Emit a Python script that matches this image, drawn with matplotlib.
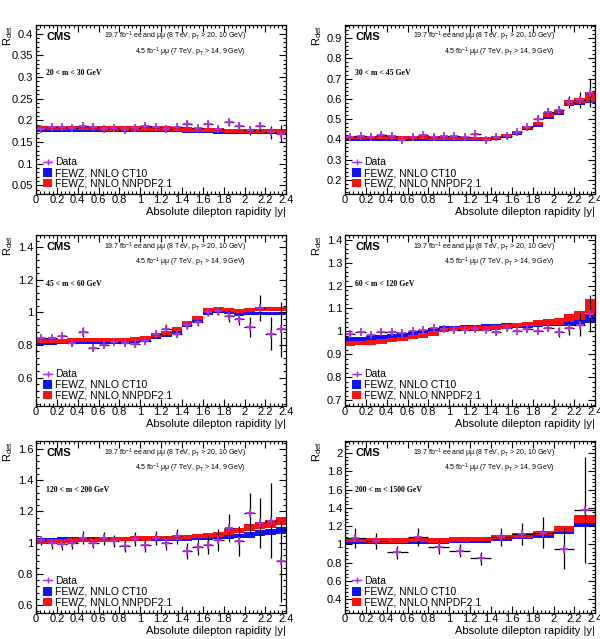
import numpy as np
import matplotlib
matplotlib.use('Agg')
import matplotlib.pyplot as plt
from matplotlib.ticker import MultipleLocator, AutoMinorLocator
from matplotlib.patches import Patch
from matplotlib.lines import Line2D

plt.rcParams['font.family'] = ['Liberation Sans', 'DejaVu Sans']
plt.rcParams['mathtext.fontset'] = 'custom'
plt.rcParams['mathtext.rm'] = 'Liberation Sans'
plt.rcParams['mathtext.it'] = 'Liberation Sans:italic'

# 20 < m < 30 GeV
m20_data = [0.181, 0.185, 0.185, 0.183, 0.186, 0.185, 0.179, 0.182, 0.177, 0.182, 0.186, 0.185,
			0.180, 0.185, 0.192, 0.182, 0.192, 0.181, 0.195, 0.186, 0.177, 0.186, 0.173, 0.169]
m20_err = [0.005, 0.005, 0.005, 0.005, 0.005, 0.005, 0.005, 0.005, 0.005, 0.005, 0.005, 0.005,
		   0.005, 0.005, 0.007, 0.006, 0.007, 0.007, 0.008, 0.008, 0.010, 0.010, 0.015, 0.020]
m20_ct10 = [0.177, 0.177, 0.177, 0.177, 0.177, 0.177, 0.177, 0.177, 0.177, 0.177, 0.177, 0.177,
			0.177, 0.176, 0.175, 0.175, 0.174, 0.173, 0.173, 0.172, 0.172, 0.172, 0.172, 0.172]
m20_nnpdf = [0.182, 0.182, 0.182, 0.182, 0.182, 0.182, 0.181, 0.181, 0.181, 0.181, 0.181, 0.181,
			 0.181, 0.180, 0.179, 0.178, 0.177, 0.177, 0.176, 0.176, 0.176, 0.176, 0.176, 0.175]

# 30 < m < 45 GeV
m30_data = [0.410, 0.416, 0.413, 0.423, 0.416, 0.397, 0.413, 0.421, 0.413, 0.418, 0.418, 0.413,
			0.425, 0.397, 0.411, 0.418, 0.434, 0.459, 0.503, 0.536, 0.544, 0.585, 0.593, 0.630]
m30_err = [0.007, 0.007, 0.007, 0.007, 0.007, 0.007, 0.007, 0.007, 0.007, 0.007, 0.007, 0.007,
		   0.008, 0.008, 0.008, 0.009, 0.010, 0.012, 0.015, 0.018, 0.020, 0.030, 0.040, 0.070]
m30_ct10 = [0.400, 0.400, 0.400, 0.400, 0.400, 0.400, 0.399, 0.399, 0.399, 0.399, 0.399, 0.399,
			0.399, 0.399, 0.402, 0.412, 0.427, 0.452, 0.470, 0.510, 0.528, 0.570, 0.578, 0.590]
m30_nnpdf = [0.409, 0.409, 0.409, 0.409, 0.409, 0.408, 0.408, 0.408, 0.407, 0.407, 0.407, 0.406,
			 0.406, 0.406, 0.408, 0.418, 0.433, 0.460, 0.478, 0.520, 0.538, 0.582, 0.592, 0.608]

# 45 < m < 60 GeV
m45_data = [0.840, 0.840, 0.855, 0.810, 0.880, 0.780, 0.800, 0.820, 0.815, 0.805, 0.825, 0.870,
			0.900, 0.870, 0.920, 0.940, 1.000, 1.010, 0.975, 0.960, 0.910, 1.025, 0.870, 0.895]
m45_err = [0.015, 0.015, 0.015, 0.015, 0.030, 0.015, 0.015, 0.015, 0.015, 0.015, 0.015, 0.020,
		   0.030, 0.020, 0.020, 0.025, 0.025, 0.025, 0.035, 0.040, 0.060, 0.080, 0.100, 0.170]
m45_ct10 = [0.812, 0.812, 0.813, 0.813, 0.813, 0.813, 0.814, 0.816, 0.818, 0.822, 0.830, 0.845,
			0.860, 0.880, 0.920, 0.950, 0.995, 1.005, 0.997, 0.988, 0.992, 0.994, 0.994, 0.994]
m45_nnpdf = [0.826, 0.826, 0.827, 0.828, 0.828, 0.828, 0.829, 0.831, 0.833, 0.837, 0.845, 0.860,
			 0.876, 0.897, 0.937, 0.967, 1.012, 1.022, 1.015, 1.008, 1.012, 1.018, 1.022, 1.022]

# 60 < m < 120 GeV
m60_data = [0.990, 0.996, 0.986, 0.996, 0.996, 0.993, 1.000, 1.007, 1.015, 1.010, 1.007, 1.007,
			1.010, 1.007, 0.997, 1.015, 1.004, 1.010, 1.004, 1.015, 0.997, 1.015, 1.030, 1.077]
m60_err = [0.012, 0.005, 0.005, 0.005, 0.005, 0.005, 0.005, 0.005, 0.005, 0.005, 0.005, 0.005,
		   0.005, 0.006, 0.007, 0.007, 0.008, 0.010, 0.012, 0.015, 0.022, 0.030, 0.050, 0.080]
m60_ct10 = [0.966, 0.968, 0.971, 0.975, 0.980, 0.985, 0.990, 0.996, 1.005, 1.014, 1.015, 1.018,
			1.020, 1.022, 1.025, 1.027, 1.026, 1.026, 1.029, 1.031, 1.034, 1.036, 1.040, 1.055]
m60_nnpdf = [0.948, 0.950, 0.952, 0.957, 0.962, 0.967, 0.975, 0.983, 0.990, 1.006, 1.010, 1.012,
			 1.013, 1.013, 1.018, 1.023, 1.028, 1.033, 1.037, 1.040, 1.045, 1.060, 1.070, 1.110]
m60_ct10_err = [0.009] * 20 + [0.010, 0.012, 0.015, 0.020]
m60_nnpdf_err = [0.010] * 18 + [0.012, 0.013, 0.015, 0.018, 0.020, 0.030]

# 120 < m < 200 GeV
m120_data = [1.015, 0.996, 0.989, 0.996, 1.033, 1.000, 1.028, 1.011, 0.978, 1.022, 0.983, 1.030,
			 1.000, 1.040, 0.946, 0.974, 0.985, 1.017, 1.093, 1.009, 1.190, 1.126, 1.140, 0.880]
m120_err = [0.030, 0.035, 0.035, 0.035, 0.040, 0.035, 0.040, 0.040, 0.040, 0.045, 0.045, 0.045,
			0.045, 0.050, 0.050, 0.055, 0.060, 0.070, 0.090, 0.095, 0.130, 0.160, 0.240, 0.260]
m120_ct10 = [1.020, 1.021, 1.022, 1.023, 1.024, 1.024, 1.024, 1.024, 1.024, 1.024, 1.024, 1.024,
			 1.024, 1.025, 1.025, 1.027, 1.029, 1.033, 1.038, 1.043, 1.050, 1.060, 1.070, 1.080]
m120_nnpdf = [1.005, 1.008, 1.010, 1.013, 1.016, 1.019, 1.021, 1.022, 1.024, 1.026, 1.027, 1.028,
			  1.030, 1.033, 1.037, 1.042, 1.048, 1.055, 1.068, 1.078, 1.098, 1.108, 1.120, 1.138]
m120_ct10_err = [0.012] * 18 + [0.014, 0.015, 0.017, 0.018, 0.020, 0.022]
m120_nnpdf_err = [0.014] * 16 + [0.015, 0.016, 0.018, 0.019, 0.021, 0.022, 0.024, 0.026]

# 200 < m < 1500 GeV (coarser bins)
m200_data = [1.074, 1.037, 0.915, 1.080, 0.970, 0.933, 0.848, 1.080, 1.110, 1.126, 0.955, 1.378]
m200_err = [0.110, 0.090, 0.070, 0.100, 0.080, 0.070, 0.070, 0.100, 0.120, 0.170, 0.220, 0.580]
m200_ct10 = [1.035, 1.030, 1.025, 1.030, 1.030, 1.040, 1.045, 1.060, 1.080, 1.100, 1.140, 1.230]
m200_nnpdf = [1.050, 1.045, 1.040, 1.050, 1.045, 1.055, 1.060, 1.080, 1.100, 1.125, 1.170, 1.280]
m200_ct10_err = [0.025] * 10 + [0.030, 0.040]
m200_nnpdf_err = [0.025] * 10 + [0.030, 0.045]

panels = [
	dict(label='20 < m < 30 GeV', data=m20_data, err=m20_err, ct10=m20_ct10, nnpdf=m20_nnpdf,
		 ct10_err=[0.004] * 24, nnpdf_err=[0.005] * 24, ylim=(0.03, 0.42), major=0.05),
	dict(label='30 < m < 45 GeV', data=m30_data, err=m30_err, ct10=m30_ct10, nnpdf=m30_nnpdf,
		 ct10_err=[0.007] * 22 + [0.008, 0.010], nnpdf_err=[0.008] * 21 + [0.010, 0.012, 0.025],
		 ylim=(0.13, 0.965), major=0.1),
	dict(label='45 < m < 60 GeV', data=m45_data, err=m45_err, ct10=m45_ct10, nnpdf=m45_nnpdf,
		 ct10_err=[0.010] * 24, nnpdf_err=[0.012] * 24, ylim=(0.425, 1.475), major=0.2),
	dict(label='60 < m < 120 GeV', data=m60_data, err=m60_err, ct10=m60_ct10, nnpdf=m60_nnpdf,
		 ct10_err=m60_ct10_err, nnpdf_err=m60_nnpdf_err, ylim=(0.675, 1.42), major=0.1),
	dict(label='120 < m < 200 GeV', data=m120_data, err=m120_err, ct10=m120_ct10, nnpdf=m120_nnpdf,
		 ct10_err=m120_ct10_err, nnpdf_err=m120_nnpdf_err, ylim=(0.55, 1.65), major=0.2),
	dict(label='200 < m < 1500 GeV', data=m200_data, err=m200_err, ct10=m200_ct10, nnpdf=m200_nnpdf,
		 ct10_err=m200_ct10_err, nnpdf_err=m200_nnpdf_err, ylim=(0.25, 2.13), major=0.2),
]

blue = '#1010ff'
red = '#ff1010'
purple = '#b030e0'

fig = plt.figure(figsize=(6.0, 6.39), dpi=100)

lefts = [0.06, 0.575]
bottoms = [0.6964, 0.3646, 0.0407]
heights = [0.2645, 0.2676, 0.269]


def gfmt(v, pos):
	return '%g' % round(v, 4)


for i, p in enumerate(panels):
	row, col = i // 2, i % 2
	ax = fig.add_axes([lefts[col], bottoms[row], 0.417, heights[row]])

	nb = len(p['data'])
	edges = np.linspace(0, 2.4, nb + 1)
	centres = 0.5 * (edges[:-1] + edges[1:])
	w = edges[1] - edges[0]

	ct = np.array(p['ct10'])
	cte = np.array(p['ct10_err'])
	nn = np.array(p['nnpdf'])
	nne = np.array(p['nnpdf_err'])
	ax.bar(centres, 2 * cte, bottom=ct - cte, width=w, color=blue, lw=0, zorder=1)
	ax.bar(centres, 2 * nne, bottom=nn - nne, width=w, color=red, lw=0, zorder=2)

	ax.errorbar(centres, p['data'], yerr=p['err'], xerr=w / 2, fmt='none',
				ecolor='black', elinewidth=0.9, capsize=0, zorder=3)
	ax.plot(centres, p['data'], ls='none', marker='+', ms=6, mew=1.3, color=purple, zorder=4)

	ax.set_xlim(0, 2.4)
	ax.set_ylim(*p['ylim'])
	ax.xaxis.set_major_locator(MultipleLocator(0.2))
	ax.xaxis.set_minor_locator(AutoMinorLocator(5))
	ax.yaxis.set_major_locator(MultipleLocator(p['major']))
	ax.yaxis.set_minor_locator(AutoMinorLocator(5))
	ax.xaxis.set_major_formatter(gfmt)
	ax.yaxis.set_major_formatter(gfmt)
	ax.tick_params(which='both', direction='in', top=True, right=True, labelsize=8)
	ax.tick_params(which='major', length=5, width=0.8)
	ax.tick_params(which='minor', length=2.5, width=0.8)
	ax.tick_params(axis='x', pad=1)
	ax.tick_params(axis='y', pad=2)
	for s in ax.spines.values():
		s.set_linewidth(0.9)

	ax.set_xlabel('Absolute dilepton rapidity |y|', fontsize=8, loc='right')
	ax.xaxis.set_label_coords(1.0, -0.075)
	ax.xaxis.label.set_va('top')
	ax.set_ylabel('R$_{\\mathrm{det}}$', fontsize=8, loc='top')
	ax.yaxis.set_label_coords(-0.085, 1.0)

	ax.text(0.04, 0.93, 'CMS', transform=ax.transAxes, fontsize=8, fontweight='bold', va='center')
	ax.text(0.27, 0.93, '19.7 fb$^{-1}$ ee and \u03bc\u03bc (8 TeV, p$_{\\mathrm{T}}$ > 20, 10 GeV)',
			transform=ax.transAxes, fontsize=5, va='center')
	ax.text(0.395, 0.84, '4.5 fb$^{-1}$ \u03bc\u03bc (7 TeV, p$_{\\mathrm{T}}$ > 14, 9 GeV)',
			transform=ax.transAxes, fontsize=5, va='center')
	ax.text(0.04, 0.715, p['label'], transform=ax.transAxes, fontsize=5.6, va='center',
			family='Liberation Serif', fontweight='bold')

	handles = [Line2D([], [], color=purple, marker='+', ms=4, mew=1.0, lw=1.0),
			   Patch(facecolor=blue, lw=0), Patch(facecolor=red, lw=0)]
	ax.legend(handles, ['Data', 'FEWZ, NNLO CT10', 'FEWZ, NNLO NNPDF2.1'], loc='lower left',
			  bbox_to_anchor=(0.02, 0.02), frameon=False, fontsize=7.5, labelspacing=0.05,
			  handlelength=0.9, handleheight=0.9, handletextpad=0.25, borderpad=0.2, borderaxespad=0)

fig.savefig('out.png', dpi=100)
